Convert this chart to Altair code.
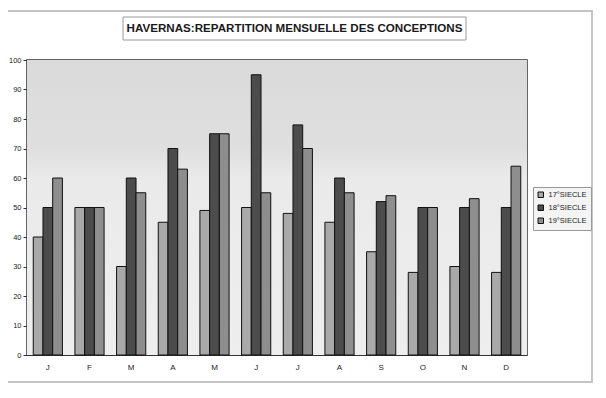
import altair as alt
import pandas as pd

months = ["J", "F", "M", "A", "M ", "J ", "J  ", "A ", "S", "O", "N", "D"]
month_labels = ["J", "F", "M", "A", "M", "J", "J", "A", "S", "O", "N", "D"]
series = ["17°SIECLE", "18°SIECLE", "19°SIECLE"]
s17 = [40, 50, 30, 45, 49, 50, 48, 45, 35, 28, 30, 28]
s18 = [50, 50, 60, 70, 75, 95, 78, 60, 52, 50, 50, 50]
s19 = [60, 50, 55, 63, 75, 55, 70, 55, 54, 50, 53, 64]
colors = ["#a9a9a9", "#4c4c4c", "#8e8e8e"]
title_text = "HAVERNAS:REPARTITION MENSUELLE DES CONCEPTIONS"

rows = []
for i, m in enumerate(months):
    for s, vals in zip(series, [s17, s18, s19]):
        rows.append({"mois": m, "label": month_labels[i], "serie": s, "valeur": vals[i]})
df = pd.DataFrame(rows)

bg = alt.Chart(pd.DataFrame({"a": [0]})).mark_rect(
    color=alt.Gradient(
        gradient="linear",
        stops=[alt.GradientStop(color="#dadada", offset=0),
               alt.GradientStop(color="#dfdfdf", offset=0.3),
               alt.GradientStop(color="#eaeaea", offset=0.4),
               alt.GradientStop(color="#eeeeee", offset=1)],
        x1=0, x2=0, y1=0, y2=1),
).encode(x=alt.value(0), x2=alt.value(500), y=alt.value(0), y2=alt.value(295))

frame = alt.Chart(pd.DataFrame({"a": [0]})).mark_rect(
    fill=None, stroke="#c4c4c4", strokeWidth=2
).encode(x=alt.value(-60), x2=alt.value(565), y=alt.value(-49), y2=alt.value(322))

title_box = alt.Chart(pd.DataFrame({"a": [0]})).mark_rect(
    fill="#ffffff", stroke="#9a9a9a", strokeWidth=1
).encode(x=alt.value(96), x2=alt.value(439), y=alt.value(-43), y2=alt.value(-20))

title = alt.Chart(pd.DataFrame({"t": [title_text]})).mark_text(
    font="Liberation Sans", fontSize=11.6, fontWeight="bold", color="#1a1a1a",
    align="center", baseline="middle"
).encode(text="t:N", x=alt.value(267.5), y=alt.value(-31))

bars = alt.Chart(df).mark_bar(stroke="#111111", strokeWidth=1).encode(
    x=alt.X("mois:N", sort=months,
            scale=alt.Scale(paddingInner=0.3, paddingOuter=0.15),
            axis=alt.Axis(title=None, labelExpr="replace(datum.label, ' ', '')",
                          labelAngle=0, ticks=False, labelPadding=8,
                          domainColor="#333333", labelFontSize=8,
                          labelColor="#222222", labelFont="Liberation Sans")),
    xOffset=alt.XOffset("serie:N", sort=series, scale=alt.Scale(paddingInner=0, paddingOuter=0)),
    y=alt.Y("valeur:Q", scale=alt.Scale(domain=[0, 100], nice=False),
            axis=alt.Axis(title=None, values=list(range(0, 101, 10)), grid=False,
                          tickSize=4, tickColor="#333333", domainColor="#333333",
                          labelFontSize=7.5, labelColor="#222222", labelPadding=2,
                          labelFont="Liberation Sans")),
    color=alt.Color("serie:N", sort=series,
                    scale=alt.Scale(domain=series, range=colors),
                    legend=alt.Legend(title=None, orient="none", legendX=506, legendY=127,
                                      symbolType="square", symbolSize=30,
                                      symbolStrokeColor="#111111", symbolStrokeWidth=1,
                                      labelFontSize=7.5, labelFont="Liberation Sans",
                                      labelColor="#222222", rowPadding=3,
                                      padding=4, strokeColor="#999999",
                                      fillColor="#f4f4f4", labelLimit=60)),
)

chart = alt.layer(frame, bg, title_box, title, bars).properties(
    width=500, height=295,
    autosize=alt.AutoSizeParams(type="none"),
    padding={"left": 19, "top": 52, "right": 71, "bottom": 35},
    background="#ffffff",
).configure_view(stroke="#333333", strokeWidth=1.5)

chart.save("out.html", embed_options={"renderer": "svg", "actions": False})
